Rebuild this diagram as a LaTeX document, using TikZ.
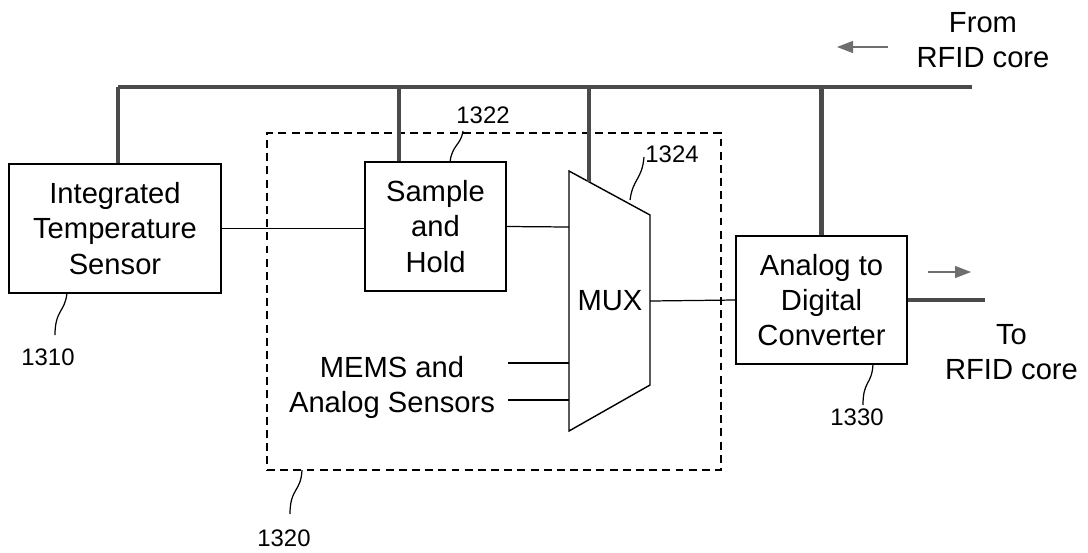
\documentclass[tikz,border=0pt]{standalone}
\usepackage{fontspec}
\setmainfont{Liberation Sans}
\usetikzlibrary{arrows.meta,calc}
\definecolor{busgray}{HTML}{4A4A4A}
\definecolor{tipgray}{HTML}{6E6E6E}
\tikzset{
  blk/.style={draw, line width=0.8pt, align=center, inner sep=0pt,
    font=\fontsize{16.6}{20}\selectfont},
  txt/.style={align=center, inner sep=0pt, font=\fontsize{16.6}{20}\selectfont},
  num/.style={inner sep=0pt, font=\fontsize{13.6}{16}\selectfont},
  bus/.style={line width=2.8pt, draw=busgray},
  wire/.style={line width=0.7pt},
  lead/.style={line width=0.7pt},
  dashbox/.style={draw, line width=0.7pt, dash pattern=on 4.5pt off 3pt},
  dirarr/.style={line width=0.7pt, draw=tipgray, -{Triangle[length=3.2mm, width=2.4mm, fill=tipgray]}},
}

\begin{document}
\begin{tikzpicture}[x=0.02cm, y=-0.02cm]
\useasboundingbox (0,0) rectangle (1088,552);

% blocks
\node[blk, minimum width=4.24cm, minimum height=2.58cm] (sensor) at (115,228.5)
  {Integrated\\Temperature\\Sensor};
\node[dashbox, minimum width=9.08cm, minimum height=6.74cm] (grp) at (494,301.5) {};
\node[blk, minimum width=2.82cm, minimum height=2.58cm] (sh) at (435.5,226.5)
  {Sample\\and\\Hold};
\node[blk, minimum width=3.42cm, minimum height=2.56cm] (adc) at (821.5,300)
  {Analog to\\Digital\\Converter};

% the multiplexer, a trapezoid
\coordinate (muxtl) at (569,171);
\coordinate (muxtr) at (650,215);
\coordinate (muxbr) at (650,385);
\coordinate (muxbl) at (569,431);
\draw[line width=0.8pt] (muxtl) -- (muxtr) -- (muxbr) -- (muxbl) -- cycle;
\node[txt] (mux) at (610,301) {MUX};
\coordinate (muxin1) at (569,227);
\coordinate (muxin2) at (569,363);
\coordinate (muxin3) at (569,400);
\coordinate (muxout) at (650,301);
\coordinate (muxtap) at ($(muxtl)!0.247!(muxtr)$);

\node[txt] (mems) at (392,387.5) {MEMS and\\Analog Sensors};
\coordinate (mems1) at (508,363);
\coordinate (mems2) at (508,400);

% signal path
\draw[wire] (sensor.east) -- (sensor.east -| sh.west);
\draw[wire] (sh.east) -- (muxin1);
\draw[wire] (mems1) -- (muxin2);
\draw[wire] (mems2) -- (muxin3);
\draw[wire] (muxout) -- (adc.west);

% control bus from the RFID core
\coordinate (busL) at (118,87);
\coordinate (busR) at (972,87);
\coordinate (tapsh) at (399,87);
\draw[bus] (busL) -- (busR);
\draw[bus] (busL) -- (busL |- sensor.north);
\draw[bus] (tapsh) -- (tapsh |- sh.north);
\draw[bus] (muxtap |- busL) -- (muxtap);
\draw[bus] (adc.north |- busL) -- (adc.north);
\coordinate (out) at (985,300);
\draw[bus] (adc.east) -- (out);

\coordinate (fromA) at (888,47);
\coordinate (fromB) at (837,47);
\draw[dirarr] (fromA) -- (fromB);
\node[txt] (fromlab) at (983,40.5) {From\\RFID core};
\coordinate (toA) at (928,272);
\coordinate (toB) at (971,272);
\draw[dirarr] (toA) -- (toB);
\node[txt] (tolab) at (1011.5,352) {To\\RFID core};

% reference numerals
\node[num] (n1310) at (48,357) {1310};
\draw[lead] (67,293) .. controls (65,312) and (55,310) .. (55,335);
\node[num] (n1322) at (483,115) {1322};
\draw[lead] (450,162) .. controls (452,145) and (461,145) .. (463,131);
\node[num] (n1324) at (672,154) {1324};
\draw[lead] (630,200) .. controls (633,178) and (642,180) .. (644,157);
\node[num] (n1330) at (857,417) {1330};
\draw[lead] (873,364) .. controls (872,385) and (863,380) .. (863,405);
\node[num] (n1320) at (284,538) {1320};
\draw[lead] (302,470) .. controls (301,492) and (290,488) .. (290,514);

\end{tikzpicture}
\end{document}
